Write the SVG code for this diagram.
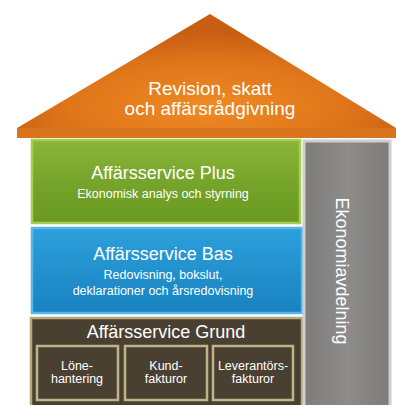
<svg xmlns="http://www.w3.org/2000/svg" width="396" height="405" viewBox="0 0 396 405">
<defs>
<radialGradient id="roofG" cx="0.5" cy="0.75" r="0.6">
<stop offset="0" stop-color="#ee8a24"/>
<stop offset="0.6" stop-color="#e0761a"/>
<stop offset="1" stop-color="#c85e12"/>
</radialGradient>
<linearGradient id="greenG" x1="0" y1="0" x2="0" y2="1">
<stop offset="0" stop-color="#8ab63a"/>
<stop offset="0.5" stop-color="#77a42a"/>
<stop offset="1" stop-color="#6a9a22"/>
</linearGradient>
<linearGradient id="blueG" x1="0" y1="0" x2="0" y2="1">
<stop offset="0" stop-color="#2da0dc"/>
<stop offset="1" stop-color="#1882c0"/>
</linearGradient>
<linearGradient id="grayG" x1="0" y1="0" x2="1" y2="0">
<stop offset="0" stop-color="#7e7b7b"/>
<stop offset="0.5" stop-color="#8e8b8b"/>
<stop offset="1" stop-color="#7e7b7b"/>
</linearGradient>
<style>
.t{font-family:"Liberation Sans",Arial,sans-serif;fill:#ffffff;text-anchor:middle}
.big{font-size:19px}
.mid{font-size:18px}
.sm{font-size:12.5px}
.sub{fill:#4a4032;stroke:#bfb38a;stroke-width:2.5}
</style>
</defs>
<g id="roof">
<polygon points="210,14 396,128 396,138 17,138 17,128" fill="url(#roofG)"/>
<polygon points="17,128 396,128 396,138 17,138" fill="#d9741c"/>
<text class="t big" x="210" y="95">Revision, skatt</text>
<text class="t big" x="210" y="115">och affärsrådgivning</text>
</g>
<g id="plus">
<rect x="32" y="140" width="268" height="83" fill="url(#greenG)" stroke="#a6cc52" stroke-width="2.5"/>
<text class="t mid" x="163" y="179">Affärsservice Plus</text>
<text class="t sm" x="163" y="198">Ekonomisk analys och styrning</text>
</g>
<g id="bas">
<rect x="32" y="228" width="270" height="85" fill="url(#blueG)" stroke="#56b8e8" stroke-width="2.5"/>
<text class="t mid" x="163" y="260">Affärsservice Bas</text>
<text class="t sm" x="163" y="279">Redovisning, bokslut,</text>
<text class="t sm" x="163" y="295">deklarationer och årsredovisning</text>
</g>
<g id="grund">
<rect x="31" y="318" width="271" height="90" fill="#4a4032" stroke="#b5a97e" stroke-width="2.5"/>
<text class="t mid" x="166" y="338">Affärsservice Grund</text>
</g>
<g id="lone">
<rect class="sub" x="37" y="346" width="81" height="54"/>
<text class="t sm" x="77" y="370">Löne-</text>
<text class="t sm" x="77" y="383">hantering</text>
</g>
<g id="kund">
<rect class="sub" x="125" y="346" width="82" height="54"/>
<text class="t sm" x="166" y="370">Kund-</text>
<text class="t sm" x="166" y="383">fakturor</text>
</g>
<g id="lev">
<rect class="sub" x="213" y="346" width="80" height="54"/>
<text class="t sm" x="253" y="370">Leverantörs-</text>
<text class="t sm" x="253" y="383">fakturor</text>
</g>
<g id="ekonomiavdelning">
<rect x="304" y="141" width="86" height="270" fill="url(#grayG)" stroke="#cfcdcd" stroke-width="3"/>
<text class="t mid" transform="translate(336,271) rotate(90)" x="0" y="0">Ekonomiavdelning</text>
</g>
<g id="connectors"/>
</svg>
